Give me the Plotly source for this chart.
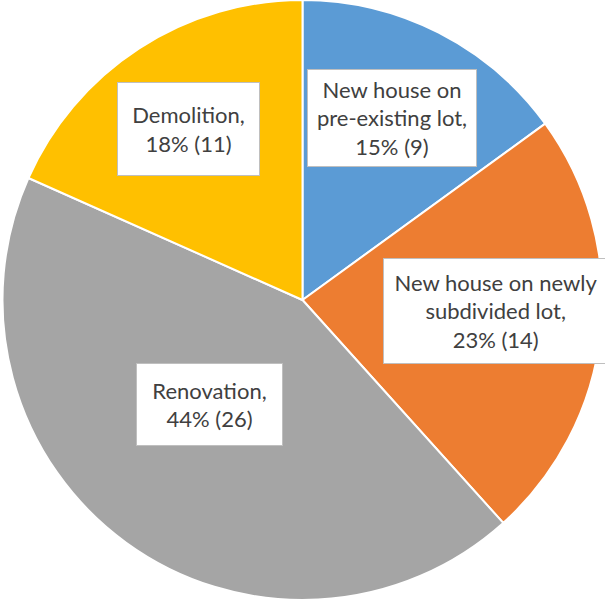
import math
import plotly.graph_objects as go

categories = ["New house on pre-existing lot", "New house on newly subdivided lot", "Renovation", "Demolition"]
label_lines = ["New house on<br>pre-existing lot,", "New house on newly<br>subdivided lot,", "Renovation,", "Demolition,"]
values = [9, 14, 26, 11]
pct_labels = ["15%", "23%", "44%", "18%"]
colors = ["#5B9BD5", "#ED7D31", "#A5A5A5", "#FFC000"]

total = sum(values)
fig = go.Figure(go.Pie(
    labels=categories, values=values, sort=False, direction="clockwise", rotation=0,
    marker=dict(colors=colors, line=dict(color="white", width=2)),
    textinfo="none", hoverinfo="label+value+percent", showlegend=False,
    domain=dict(x=[0, 1], y=[0, 1]),
))

W, H = 605, 600
R = min(W, H) / 2
cx, cy = W / 2, H / 2
# label box placement (radius fraction, angle nudge in degrees) and box sizes
radial = [0.676, 0.646, 0.466, 0.685]
nudge = [-0.8, -2.75, 5.67, -0.7]
box_w = [170, 226, 147, 143]
box_h = [98, 106, 83, 94]
cum = 0
for i, v in enumerate(values):
    mid = (cum + v / 2) / total * 2 * math.pi + math.radians(nudge[i])
    cum += v
    px = cx + radial[i] * R * math.sin(mid)
    py = cy + radial[i] * R * math.cos(mid)
    fig.add_annotation(
        x=px / W, y=py / H, xref="paper", yref="paper", xanchor="center", yanchor="middle",
        text=f"{label_lines[i]}<br>{pct_labels[i]} ({v})", showarrow=False,
        font=dict(family="Lato, Open Sans, sans-serif", size=22, color="#404040"),
        bgcolor="white", bordercolor="#BFBFBF", borderwidth=1, borderpad=0,
        width=box_w[i] - 2, height=box_h[i] - 2, align="center", valign="middle",
    )

fig.update_layout(width=W, height=H, margin=dict(l=0, r=0, t=0, b=0),
                  paper_bgcolor="white", plot_bgcolor="white")
fig.write_html("out.html", config={"displayModeBar": False},
               post_script="document.body.style.margin='0';")
